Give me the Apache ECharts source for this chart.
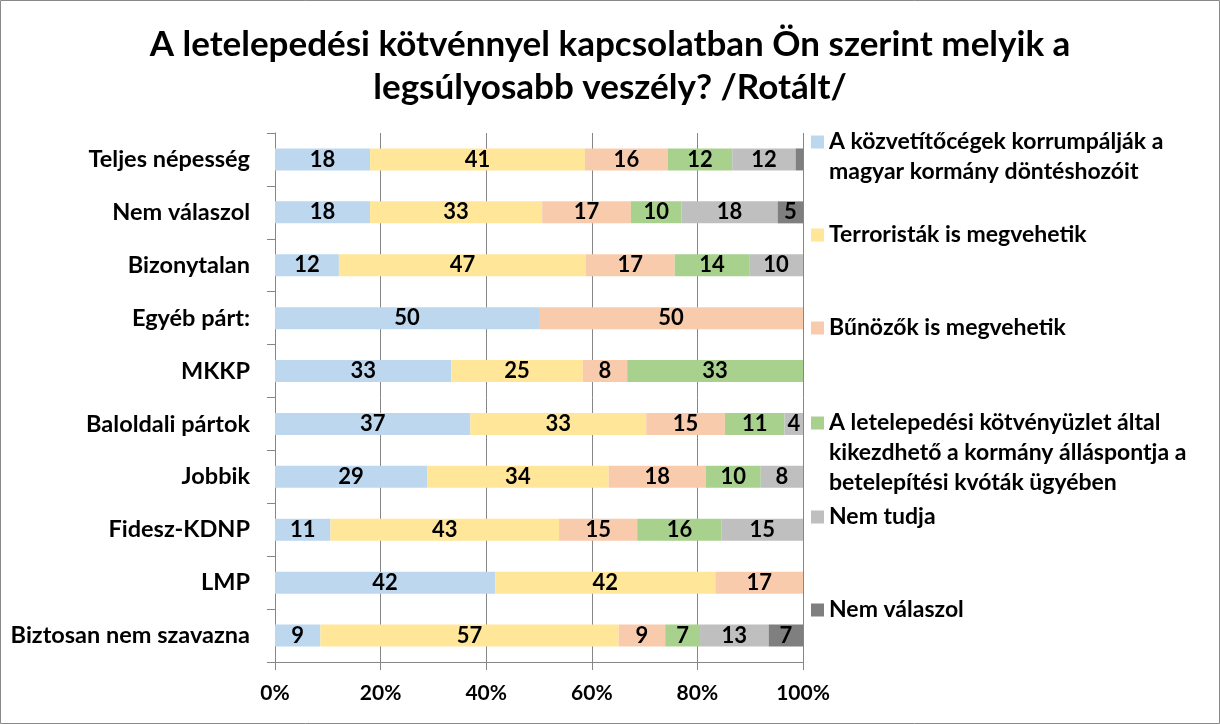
<!DOCTYPE html>
<html>
<head>
<meta charset="utf-8">
<script src="https://cdn.jsdelivr.net/npm/echarts@6/dist/echarts.min.js"></script>
<style>
html,body{margin:0;padding:0;background:#fff;}
#chart{width:1220px;height:724px;}
</style>
</head>
<body>
<div id="chart"></div>
<script>
const titleText = 'A letelepedési kötvénnyel kapcsolatban Ön szerint melyik a\nlegsúlyosabb veszély? /Rotált/';
const categories = ['Teljes népesség','Nem válaszol','Bizonytalan','Egyéb párt:','MKKP','Baloldali pártok','Jobbik','Fidesz-KDNP','LMP','Biztosan nem szavazna'];
const xTickLabels = ['0%','20%','40%','60%','80%','100%'];
const seriesNames = [
  'A közvetítőcégek korrumpálják a\nmagyar kormány döntéshozóit',
  'Terroristák is megvehetik',
  'Bűnözők is megvehetik',
  'A letelepedési kötvényüzlet által\nkikezdhető a kormány álláspontja a\nbetelepítési kvóták ügyében',
  'Nem tudja',
  'Nem válaszol'
];
const kozvetitok = [18.0, 18.0, 12.1, 50, 33.4, 37.0, 28.8, 10.5, 41.7, 8.6];
const terroristak = [40.7, 32.6, 46.8, 0, 24.9, 33.3, 34.4, 43.3, 41.7, 56.5];
const bunozok = [15.7, 16.8, 16.8, 50, 8.4, 14.9, 18.4, 14.8, 16.6, 8.8];
const kvotak = [12.2, 9.6, 14.1, 0, 33.3, 11.3, 10.4, 16.0, 0, 6.6];
const nemTudja = [12.0, 18.2, 10.2, 0, 0, 3.5, 8.0, 15.4, 0, 13.0];
const nemValaszol = [1.4, 4.8, 0, 0, 0, 0, 0, 0, 0, 6.5];
const seriesValues = [kozvetitok, terroristak, bunozok, kvotak, nemTudja, nemValaszol];
const colors = ['#BDD7EE','#FFE699','#F8CBAD','#A9D18E','#BFBFBF','#7F7F7F'];

const FONT = 'Lato';
const legendCenters = [142, 235, 328, 423, 517, 610];
const LH = 30;

const chart = echarts.init(document.getElementById('chart'), null, {renderer:'canvas'});

const legends = seriesNames.map((name, i) => {
  const n = name.split('\n').length;
  return {
    data: [name],
    orient: 'vertical',
    left: 811,
    top: legendCenters[i] - (2*n-1)*LH/2,
    padding: 0,
    itemWidth: 13,
    itemHeight: 13,
    icon: 'rect',
    selectedMode: false,
    formatter: nm => '\n'.repeat(n-1) + nm,
    textStyle: {
      fontFamily: FONT, fontWeight: 'bold', fontSize: 23, color: '#000',
      lineHeight: LH
    }
  };
});

const series = seriesNames.map((name, i) => ({
  name: name,
  type: 'bar',
  stack: 'total',
  barWidth: 22,
  itemStyle: { color: colors[i] },
  label: {
    show: true,
    position: 'inside',
    color: '#000',
    fontFamily: FONT,
    fontWeight: 'bold',
    fontSize: 22,
    formatter: p => (p.value >= 2 ? String(Math.round(p.value)) : '')
  },
  emphasis: { disabled: true },
  data: seriesValues[i]
}));

chart.setOption({
  animation: false,
  backgroundColor: '#fff',
  title: {
    text: titleText,
    left: 'center',
    top: 18,
    textStyle: { fontFamily: FONT, fontWeight: 'bold', fontSize: 35, lineHeight: 43, color: '#000' }
  },
  legend: legends,
  grid: { left: 275, right: 417, top: 133, bottom: 62, containLabel: false },
  xAxis: {
    type: 'value',
    min: 0, max: 100, interval: 20,
    axisLine: { show: true, lineStyle: { color: '#868686', width: 1 } },
    axisTick: { show: true, length: 8, lineStyle: { color: '#868686' } },
    splitLine: { show: true, lineStyle: { color: '#868686', width: 1 } },
    axisLabel: {
      margin: 21,
      fontFamily: FONT, fontWeight: 'bold', fontSize: 21, color: '#000',
      formatter: v => xTickLabels[Math.round(v/20)]
    }
  },
  yAxis: {
    type: 'category',
    inverse: true,
    data: categories,
    axisLine: { show: true, lineStyle: { color: '#868686', width: 1 } },
    axisTick: { show: true, length: 8, lineStyle: { color: '#868686' } },
    axisLabel: { margin: 25, fontFamily: FONT, fontWeight: 'bold', fontSize: 23.5, color: '#000' }
  },
  graphic: [{
    type: 'rect',
    shape: { x: 0.5, y: 0.5, width: 1219, height: 723 },
    style: { fill: 'none', stroke: '#898989', lineWidth: 1 },
    silent: true
  }],
  series: series
});
</script>
</body>
</html>
